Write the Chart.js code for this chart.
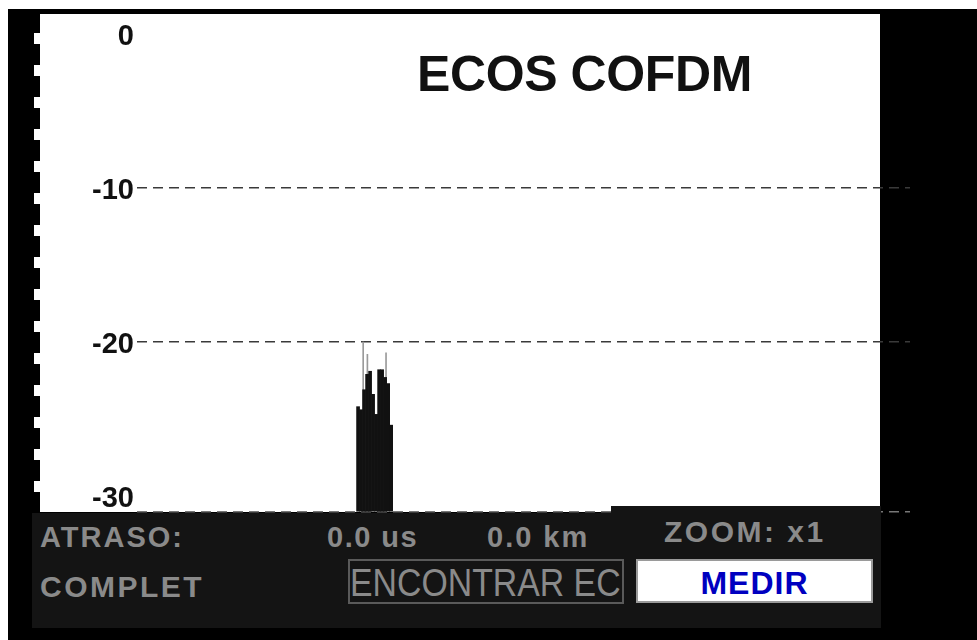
<!DOCTYPE html>
<html>
<head>
<meta charset="utf-8">
<script src="https://cdn.jsdelivr.net/npm/chart.js@4/dist/chart.umd.min.js"></script>
<style>
    body { margin: 0; background: #fff; width: 977px; height: 640px; overflow: hidden; position: relative; font-family: "Liberation Sans", Arial, sans-serif; }
    .abs { position: absolute; white-space: nowrap; }
    #frame { left: 8px; top: 9px; width: 969px; height: 631px; background: #000; }
    #plotBg { left: 40px; top: 14px; width: 840px; height: 498px; background: #fff; }
    #notches { left: 34px; top: 14px; width: 6px; height: 498px;
        background: repeating-linear-gradient(to bottom, #000 0px, #000 19px, #fff 19px, #fff 30px, #000 30px, #000 32px); }
    #echoChart { position: absolute; left: 0; top: 0; }
    #panel { left: 32px; top: 513px; width: 849px; height: 115px; background: #141414; }
    #panelStep { left: 611px; top: 506px; width: 270px; height: 8px; background: #141414; }
    .lbl { color: #8a8a8a; font-weight: bold; font-size: 29px; line-height: 29px; }
    #title { left: 417px; top: 49px; font-size: 50px; line-height: 50px; font-weight: bold; color: #111; letter-spacing: -0.4px; }
    #btnFind { left: 348px; top: 559px; width: 272px; height: 41px; border: 2px solid #5a5a5a; background: #141414; overflow: hidden; }
    #btnFind span { position: absolute; left: 0; top: 3px; font-size: 38px; line-height: 38px; color: #8a8a8a; transform: scaleX(0.89); transform-origin: left top; }
    #btnMeasure { left: 636px; top: 559px; width: 233px; height: 40px; border: 2px solid #9a9a9a; background: #fff; text-align: center; }
    #btnMeasure span { font-size: 32px; line-height: 32px; font-weight: bold; color: #0000c0; letter-spacing: 1px; position: relative; top: 6px; }
</style>
</head>
<body>
<div class="abs" id="frame"></div>
<div class="abs" id="plotBg"></div>
<div class="abs" id="notches"></div>
<canvas id="echoChart" width="977" height="640"></canvas>
<div class="abs" id="title">ECOS COFDM</div>
<div class="abs" id="panel"></div>
<div class="abs" id="panelStep"></div>
<div class="abs lbl" style="left:40px; top:523px; letter-spacing:2px;">ATRASO:</div>
<div class="abs lbl" style="left:327px; top:523px; letter-spacing:1.5px;">0.0 us</div>
<div class="abs lbl" style="left:487px; top:523px; letter-spacing:2px;">0.0 km</div>
<div class="abs lbl" style="left:664px; top:517px; font-size:30px; line-height:30px; letter-spacing:2.5px;">ZOOM: x1</div>
<div class="abs lbl" style="left:40px; top:572px; font-size:30px; line-height:30px; letter-spacing:2.5px;">COMPLET</div>
<div class="abs" id="btnFind"><span>ENCONTRAR EC</span></div>
<div class="abs" id="btnMeasure"><span>MEDIR</span></div>

<script>
// Echo profile data (delay bins vs level in dB)
const delayBins = [73, 74, 75, 76, 77, 78, 79, 80, 81, 82, 83, 84];
const echoLevels = [-24.2, -24.4, -23.1, -22.1, -21.9, -23.4, -24.7, -21.8, -21.8, -22.3, -22.7, -25.4];

// Peak hold traces (thin grey lines)
const peakBins = [74.7, 76.1, 82.3];
const peakLevels = [-20.0, -20.8, -20.7];

// Axis setup
const yTicks = [0, -10, -20, -30];
const gridLevels = [-10, -20];
const Y_MIN = -31.04;
const Y_MAX = 1.3;
const X_MIN = -0.5;
const X_MAX = 256.5;

function toPoints(xs, ys) {
    return xs.map((x, i) => ({ x: x, y: ys[i] }));
}

new Chart(document.getElementById('echoChart'), {
    type: 'bar',
    data: {
        datasets: [{
            label: 'Eco',
            data: toPoints(delayBins, echoLevels),
            backgroundColor: '#111',
            base: Y_MIN,
            barThickness: 3,
            grouped: false,
            order: 0
        }, {
            label: 'Pico',
            data: toPoints(peakBins, peakLevels),
            backgroundColor: '#9a9a9a',
            base: Y_MIN,
            barThickness: 1,
            grouped: false,
            order: 1
        }]
    },
    options: {
        responsive: false,
        animation: false,
        layout: { padding: { top: 14, bottom: 128, left: 0, right: 67 } },
        plugins: {
            legend: { display: false },
            tooltip: { enabled: false }
        },
        scales: {
            x: {
                type: 'linear',
                display: false,
                offset: false,
                min: X_MIN,
                max: X_MAX
            },
            y: {
                min: Y_MIN,
                max: Y_MAX,
                afterFit: scale => {
                    scale.width = 137;
                    scale.paddingTop = 0;
                    scale.paddingBottom = 0;
                },
                afterBuildTicks: scale => {
                    scale.ticks = [Y_MIN].concat(yTicks.slice().reverse()).map(v => ({ value: v }));
                },
                ticks: {
                    padding: 3,
                    labelOffset: 3,
                    color: '#111',
                    font: { family: 'Liberation Sans', size: 29, weight: 'bold' },
                    callback: v => (yTicks.includes(v) ? String(v) : '')
                },
                grid: {
                    drawTicks: false,
                    lineWidth: 1.5,
                    color: ctx => {
                        if (ctx.tick && gridLevels.includes(ctx.tick.value)) return '#3a3a3a';
                        if (ctx.tick && ctx.tick.value === Y_MIN) return '#777';
                        return 'transparent';
                    }
                },
                border: { display: false, dash: [10, 6] }
            }
        }
    }
});
</script>
</body>
</html>
